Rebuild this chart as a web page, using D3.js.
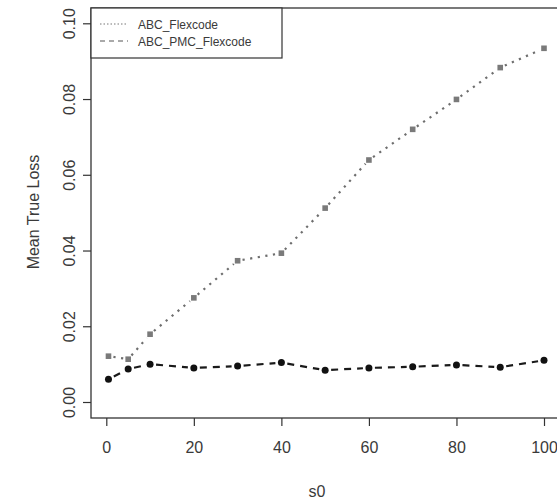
<!DOCTYPE html>
<html>
<head>
<meta charset="utf-8">
<script src="https://cdn.jsdelivr.net/npm/d3@7"></script>
<style>
  html, body { margin: 0; padding: 0; background: #fff; }
  svg { display: block; }
  text { font-family: "Liberation Sans", Arial, sans-serif; fill: #3a3a3a; }
</style>
</head>
<body>
<svg id="chart" width="557" height="502"></svg>
<script>
// ---- data ----
const s0 = [0.5, 5, 10, 20, 30, 40, 50, 60, 70, 80, 90, 100];
const abcFlexcode = [0.0121, 0.0113, 0.0179, 0.0275, 0.0373, 0.0393, 0.0512, 0.0639, 0.0720, 0.0799, 0.0883, 0.0934];
const abcPmcFlexcode = [0.0060, 0.0087, 0.0100, 0.0090, 0.0095, 0.0104, 0.0084, 0.0090, 0.0093, 0.0098, 0.0092, 0.0110];
const xTicks = [0, 20, 40, 60, 80, 100];
const yTicks = [0.00, 0.02, 0.04, 0.06, 0.08, 0.10];
const seriesNames = ["ABC_Flexcode", "ABC_PMC_Flexcode"];

// ---- layout ----
const svg = d3.select("#chart");
const box = { left: 91, top: 8, bottom: 418, right: 600 };
const x = d3.scaleLinear().domain([0, 100]).range([106.3, 544]);
const y = d3.scaleLinear().domain([0, 0.1]).range([402, 23.3]);
const axisColor = "#333";

// plot box
svg.append("rect")
  .attr("x", box.left).attr("y", box.top)
  .attr("width", box.right - box.left).attr("height", box.bottom - box.top)
  .attr("fill", "none").attr("stroke", axisColor).attr("stroke-width", 1.3);

// x axis
const gx = svg.append("g").attr("transform", `translate(0,${box.bottom})`)
  .call(d3.axisBottom(x).tickValues(xTicks).tickSize(8).tickFormat(d3.format("d")));
gx.select(".domain").remove();
gx.selectAll("line").attr("stroke", axisColor).attr("stroke-width", 1.2);
gx.selectAll("text").attr("y", 35).attr("dy", 0).style("font-size", "16px").attr("fill", "#3a3a3a");

// y axis
const gy = svg.append("g").attr("transform", `translate(${box.left},0)`)
  .call(d3.axisLeft(y).tickValues(yTicks).tickSize(8).tickFormat(d3.format(".2f")));
gy.select(".domain").remove();
gy.selectAll("line").attr("stroke", axisColor).attr("stroke-width", 1.2);
gy.selectAll("text")
  .attr("transform", "rotate(-90)")
  .attr("x", 0).attr("y", -16).attr("dy", 0)
  .attr("text-anchor", "middle")
  .style("font-size", "16px").attr("fill", "#3a3a3a");

// axis titles
svg.append("text").attr("x", 317).attr("y", 497).attr("text-anchor", "middle")
  .style("font-size", "16px").text("s0");
svg.append("text").attr("transform", "translate(39,212) rotate(-90)")
  .attr("text-anchor", "middle").style("font-size", "16px").text("Mean True Loss");

// lines with gaps at points (R type="b")
function gappedSegments(vals, gap) {
  const pts = s0.map((d, i) => [x(d), y(vals[i])]);
  const segs = [];
  for (let i = 0; i < pts.length - 1; i++) {
    const [x1, y1] = pts[i], [x2, y2] = pts[i + 1];
    const dx = x2 - x1, dy = y2 - y1, L = Math.hypot(dx, dy);
    if (L <= 2 * gap) continue;
    const ux = dx / L, uy = dy / L;
    segs.push([x1 + ux * gap, y1 + uy * gap, x2 - ux * gap, y2 - uy * gap]);
  }
  return segs;
}

svg.append("g").selectAll("line").data(gappedSegments(abcFlexcode, 5)).join("line")
  .attr("x1", d => d[0]).attr("y1", d => d[1]).attr("x2", d => d[2]).attr("y2", d => d[3])
  .attr("stroke", "#6e6e6e").attr("stroke-width", 2.2).attr("stroke-dasharray", "2.2,5.5");

svg.append("g").selectAll("line").data(gappedSegments(abcPmcFlexcode, 6)).join("line")
  .attr("x1", d => d[0]).attr("y1", d => d[1]).attr("x2", d => d[2]).attr("y2", d => d[3])
  .attr("stroke", "#1a1a1a").attr("stroke-width", 2.2).attr("stroke-dasharray", "7,6");

// points
svg.append("g").selectAll("rect").data(s0).join("rect")
  .attr("x", (d) => x(d) - 2.8).attr("y", (d, i) => y(abcFlexcode[i]) - 2.8)
  .attr("width", 5.6).attr("height", 5.6).attr("fill", "#7a7a7a");

svg.append("g").selectAll("circle").data(s0).join("circle")
  .attr("cx", d => x(d)).attr("cy", (d, i) => y(abcPmcFlexcode[i]))
  .attr("r", 3.5).attr("fill", "#111");

// legend
const lg = svg.append("g");
lg.append("rect").attr("x", box.left).attr("y", box.top).attr("width", 191).attr("height", 50)
  .attr("fill", "#fff").attr("stroke", axisColor).attr("stroke-width", 1.2);
const legendStyles = [
  { dash: "1.5,2", color: "#777" },
  { dash: "5,4", color: "#555" }
];
seriesNames.forEach((name, i) => {
  const cy = 24 + i * 17;
  lg.append("line").attr("x1", 100).attr("x2", 128).attr("y1", cy).attr("y2", cy)
    .attr("stroke", legendStyles[i].color).attr("stroke-width", 1)
    .attr("stroke-dasharray", legendStyles[i].dash);
  lg.append("text").attr("x", 138).attr("y", cy + 4.5).style("font-size", "12px").text(name);
});
</script>
</body>
</html>
